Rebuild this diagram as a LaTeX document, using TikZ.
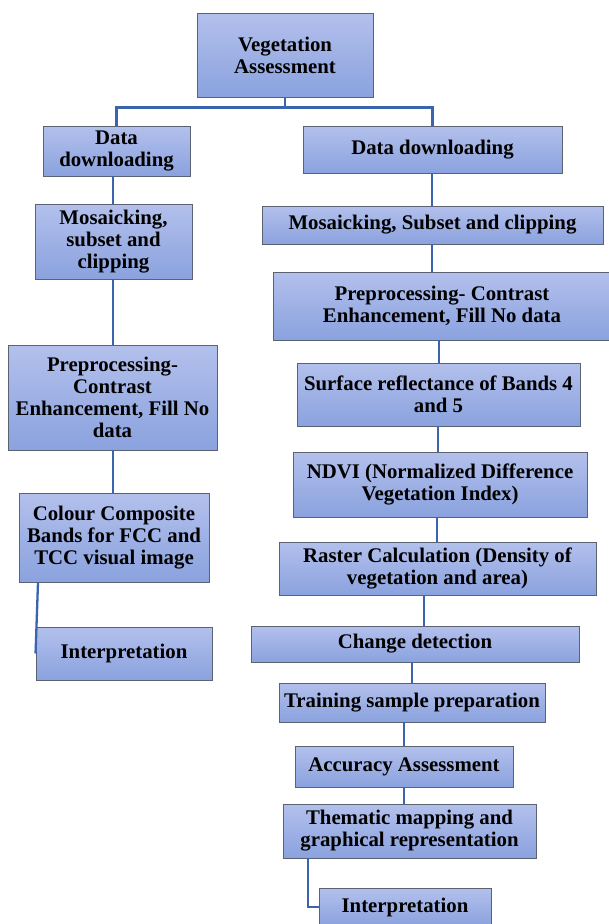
\documentclass[tikz,border=0pt]{standalone}
\usepackage{fontspec}
\setmainfont{Liberation Serif}
\definecolor{boxtop}{HTML}{B3C0EC}
\definecolor{boxbot}{HTML}{8AA2DE}
\definecolor{boxline}{HTML}{5B6272}
\definecolor{conn}{HTML}{3A64AE}
\tikzset{
  fbox/.style={rectangle, top color=boxtop, bottom color=boxbot, draw=boxline, line width=0.9pt,
    align=center, inner sep=1pt, font=\fontsize{20.8}{22}\selectfont\bfseries},
  link/.style={draw=conn, line width=2.3pt}
}
\begin{document}
\begin{tikzpicture}[x=1pt,y=-1pt]
\useasboundingbox (0,0) rectangle (609,924);
% top
\node[fbox, minimum width=176pt, minimum height=84pt] (top) at (285,55) {Vegetation\\Assessment};
% left column
\node[fbox, minimum width=147pt, minimum height=50pt] (LDD) at (116.5,151) {Data\\downloading};
\node[fbox, minimum width=157pt, minimum height=75pt] (LMos) at (113.5,241.5) {Mosaicking,\\subset and\\clipping};
\node[fbox, minimum width=209pt, minimum height=105pt] (LPre) at (112.5,397.5) {Preprocessing-\\Contrast\\Enhancement, Fill No\\data};
\node[fbox, minimum width=190pt, minimum height=89pt] (LCol) at (114,537.5) {Colour Composite\\Bands for FCC and\\TCC visual image};
\node[fbox, minimum width=176pt, minimum height=53pt] (LInt) at (124,653.5) {Interpretation};
% right column
\node[fbox, minimum width=259pt, minimum height=47pt] (RDD) at (432.5,149.5) {Data downloading};
\node[fbox, minimum width=341pt, minimum height=38pt] (RMos) at (432.5,225) {Mosaicking, Subset and clipping};
\node[fbox, minimum width=338pt, minimum height=68pt] (RPre) at (442,306) {Preprocessing- Contrast\\Enhancement, Fill No data};
\node[fbox, minimum width=283pt, minimum height=63pt] (RSurf) at (438.5,394.5) {Surface reflectance of Bands 4\\and 5};
\node[fbox, minimum width=294pt, minimum height=65pt] (RNDVI) at (440,484.5) {NDVI (Normalized Difference\\Vegetation Index)};
\node[fbox, minimum width=317pt, minimum height=53pt] (RRast) at (437.5,568.5) {Raster Calculation (Density of\\vegetation and area)};
\node[fbox, minimum width=328pt, minimum height=36pt] (RChg) at (415,644) {Change detection};
\node[fbox, minimum width=266pt, minimum height=39pt] (RTrain) at (412,702.5) {Training sample preparation};
\node[fbox, minimum width=218pt, minimum height=41pt] (RAcc) at (404,766.5) {Accuracy Assessment};
\node[fbox, minimum width=253pt, minimum height=54pt] (RThem) at (409.5,831) {Thematic mapping and\\graphical representation};
\node[fbox, minimum width=172pt, minimum height=38pt] (RInt) at (405,907) {Interpretation};
% x positions for connectors
\coordinate (xa) at (113,0);
\coordinate (xb) at (38,0);
\coordinate (xc) at (432,0);
\coordinate (xd) at (439,0);
\coordinate (xe) at (438,0);
\coordinate (xf) at (437,0);
\coordinate (xg) at (424,0);
\coordinate (xh) at (412,0);
\coordinate (xi) at (404,0);
\coordinate (xj) at (308,0);
% connectors
\draw[link] (top.south) -- ++(0,10) -| (LDD.north);
\draw[link] (top.south) -- ++(0,10) -| (RDD.north);
\draw[link] (LDD.south -| xa) -- (LMos.north -| xa);
\draw[link] (LMos.south -| xa) -- (LPre.north -| xa);
\draw[link] (LPre.south -| xa) -- (LCol.north -| xa);
\draw[link] (LCol.south -| xb) -- (LInt.west);
\draw[link] (RDD.south -| xc) -- (RMos.north -| xc);
\draw[link] (RMos.south -| xc) -- (RPre.north -| xc);
\draw[link] (RPre.south -| xd) -- (RSurf.north -| xd);
\draw[link] (RSurf.south -| xe) -- (RNDVI.north -| xe);
\draw[link] (RNDVI.south -| xf) -- (RRast.north -| xf);
\draw[link] (RRast.south -| xg) -- (RChg.north -| xg);
\draw[link] (RChg.south -| xh) -- (RTrain.north -| xh);
\draw[link] (RTrain.south -| xi) -- (RAcc.north -| xi);
\draw[link] (RAcc.south -| xi) -- (RThem.north -| xi);
\draw[link] (RThem.south -| xj) |- (RInt.west);
\end{tikzpicture}
\end{document}
